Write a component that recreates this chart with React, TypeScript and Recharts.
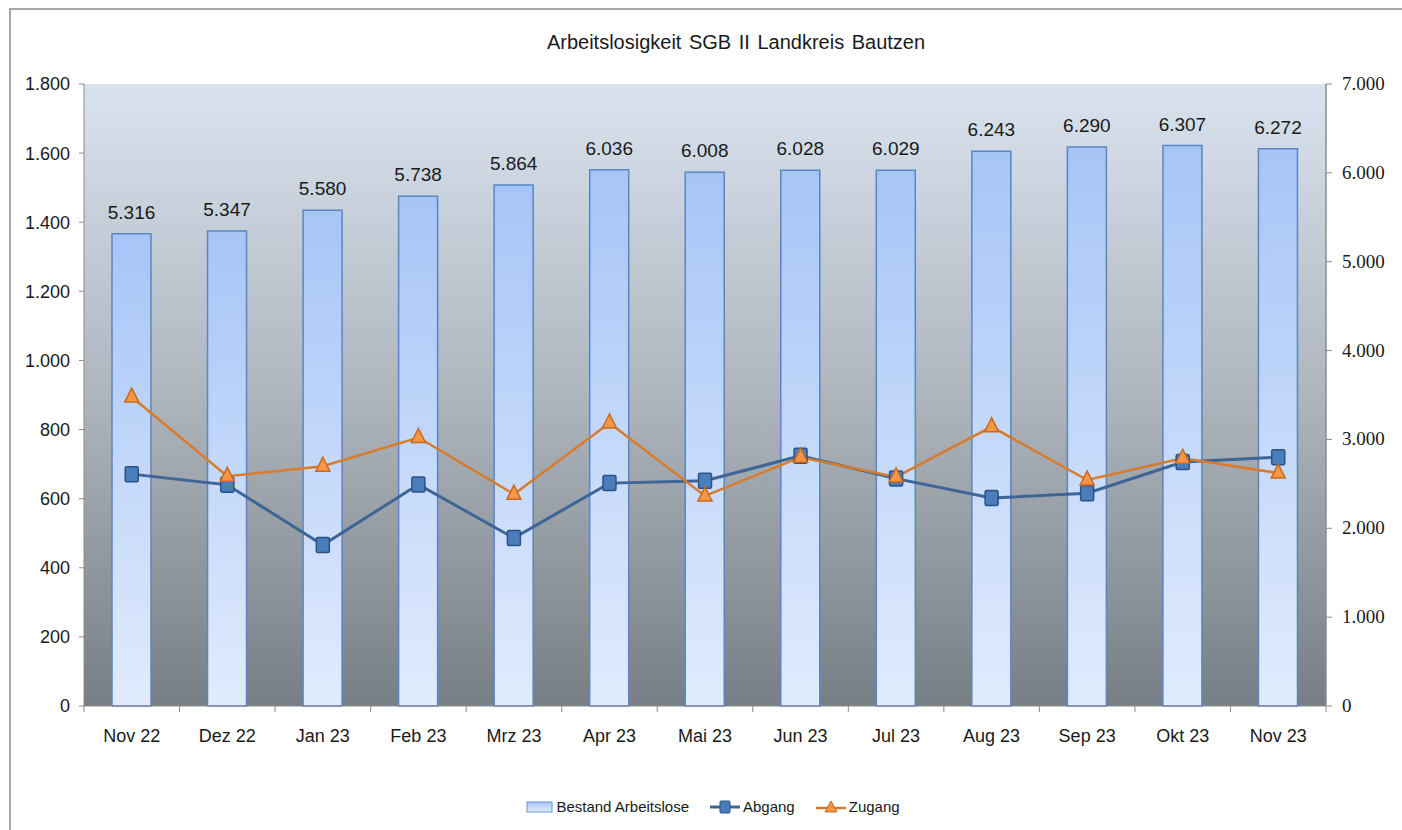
import React from 'react';
import { ComposedChart, Bar, Line, XAxis, YAxis, CartesianGrid, LabelList } from 'recharts';

const months = ['Nov 22', 'Dez 22', 'Jan 23', 'Feb 23', 'Mrz 23', 'Apr 23', 'Mai 23', 'Jun 23', 'Jul 23', 'Aug 23', 'Sep 23', 'Okt 23', 'Nov 23'];
const bestand = [5316, 5347, 5580, 5738, 5864, 6036, 6008, 6028, 6029, 6243, 6290, 6307, 6272];
const abgang = [671, 640, 466, 641, 486, 645, 652, 724, 658, 602, 616, 706, 720];
const zugang = [894, 665, 694, 777, 613, 819, 608, 720, 663, 808, 654, 717, 674];
const leftTicks = [0, 200, 400, 600, 800, 1000, 1200, 1400, 1600, 1800];
const rightTicks = [0, 1000, 2000, 3000, 4000, 5000, 6000, 7000];

const data = months.map((m, i) => ({ month: m, bestand: bestand[i], abgang: abgang[i], zugang: zugang[i] }));

// German thousands separator
const fmt = (v: number) => String(v).replace(/\B(?=(\d{3})+(?!\d))/g, '.');

const SANS = '"Liberation Sans", Arial, sans-serif';
const SERIF = 'Liberation Serif, Times New Roman, serif';

const SquareDot = (props: any) => {
    const { cx, cy, index } = props;
    return <rect key={'a' + index} x={cx - 6.5} y={cy - 7.5} width={13} height={15} rx={1.5} fill="#4a7ebb" stroke="#2c5286" strokeWidth={1.5} />;
};

const TriangleDot = (props: any) => {
    const { cx, cy, index } = props;
    return (
        <polygon
            key={'z' + index}
            points={`${cx},${cy - 9} ${cx - 7},${cy + 5} ${cx + 7},${cy + 5}`}
            fill="#f79646"
            stroke="#c86a1e"
            strokeWidth={1.5}
        />
    );
};

const XTick = (props: any) => {
    const { x, y, payload, width, visibleTicksCount, index } = props;
    const band = width / visibleTicksCount;
    const axisY = y - 8;
    return (
        <g>
            <line x1={x - band / 2} x2={x - band / 2} y1={axisY} y2={axisY + 6} stroke="#8c8c8c" />
            {index === visibleTicksCount - 1 && (
                <line x1={x + band / 2} x2={x + band / 2} y1={axisY} y2={axisY + 6} stroke="#8c8c8c" />
            )}
            <text x={x} y={y + 28} textAnchor="middle" fontSize={18} fill="#1a1a1a" fontFamily={SANS}>
                {payload.value}
            </text>
        </g>
    );
};

const RightTick = (props: any) => {
    const { x, y, payload } = props;
    return (
        <text x={x} y={y + 6} textAnchor="start" fontSize={19} fill="#1a1a1a" fontFamily={SERIF}>
            {fmt(payload.value)}
        </text>
    );
};

function Legend() {
    const item = { display: 'flex', alignItems: 'center', marginRight: 20 } as React.CSSProperties;
    return (
        <div
            style={{
                position: 'absolute',
                top: 798,
                left: 22,
                width: 1402,
                display: 'flex',
                justifyContent: 'center',
                fontFamily: SANS,
                fontSize: 15,
                color: '#1a1a1a',
            }}
        >
            <div style={item}>
                <svg width={28} height={14}>
                    <rect x={1} y={2} width={25} height={10} fill="url(#legBar)" stroke="#6b93c9" />
                    <defs>
                        <linearGradient id="legBar" x1="0" y1="0" x2="0" y2="1">
                            <stop offset="0%" stopColor="#a9c7f7" />
                            <stop offset="100%" stopColor="#e0eafc" />
                        </linearGradient>
                    </defs>
                </svg>
                <span style={{ marginLeft: 2 }}>Bestand Arbeitslose</span>
            </div>
            <div style={item}>
                <svg width={32} height={16}>
                    <line x1={1} x2={31} y1={8} y2={8} stroke="#3d6596" strokeWidth={3} />
                    <rect x={11} y={2} width={10} height={12} rx={1} fill="#4a7ebb" stroke="#2c5286" />
                </svg>
                <span style={{ marginLeft: 2 }}>Abgang</span>
            </div>
            <div style={item}>
                <svg width={32} height={16}>
                    <line x1={1} x2={31} y1={9} y2={9} stroke="#d97b2b" strokeWidth={2.5} />
                    <polygon points="16,2 10,13 22,13" fill="#f79646" stroke="#c86a1e" />
                </svg>
                <span style={{ marginLeft: 2 }}>Zugang</span>
            </div>
        </div>
    );
}

export default function App() {
    return (
        <div style={{ position: 'absolute', left: 0, top: 0, width: 1402, height: 830, background: '#fff', overflow: 'hidden' }}>
            <div style={{ position: 'absolute', left: 9, top: 8, width: 1420, height: 850, border: '2px solid #a6a6a6' }} />
            <div
                style={{
                    position: 'absolute',
                    left: 436,
                    top: 31,
                    width: 600,
                    textAlign: 'center',
                    fontFamily: SANS,
                    fontSize: 20,
                    color: '#1a1a1a',
                    wordSpacing: 2,
                }}
            >
                Arbeitslosigkeit SGB II Landkreis Bautzen
            </div>
            <div style={{ position: 'absolute', left: 0, top: 0 }}>
                <ComposedChart width={1402} height={830} data={data} margin={{ top: 84, right: 0, bottom: 94, left: 0 }}>
                    <defs>
                        <linearGradient id="plotBg" x1="0" y1="0" x2="0" y2="1">
                            <stop offset="0%" stopColor="#d9e3ef" />
                            <stop offset="50%" stopColor="#aeb5bd" />
                            <stop offset="100%" stopColor="#787e86" />
                        </linearGradient>
                        <linearGradient id="barFill" x1="0" y1="0" x2="0" y2="1">
                            <stop offset="0%" stopColor="#a6c5f7" />
                            <stop offset="100%" stopColor="#e1ebfd" />
                        </linearGradient>
                    </defs>
                    <CartesianGrid yAxisId="left" horizontal={false} vertical={false} fill="url(#plotBg)" stroke="none" />
                    <XAxis
                        dataKey="month"
                        height={30}
                        tickLine={false}
                        tickSize={6}
                        tickMargin={2}
                        axisLine={{ stroke: '#8c8c8c' }}
                        tick={<XTick />}
                        interval={0}
                    />
                    <YAxis
                        yAxisId="left"
                        width={84}
                        domain={[0, 1800]}
                        ticks={leftTicks}
                        tickFormatter={fmt}
                        axisLine={{ stroke: '#8c8c8c' }}
                        tickLine={{ stroke: '#8c8c8c' }}
                        tickSize={5}
                        tickMargin={9}
                        tick={{ fontSize: 18, fill: '#1a1a1a', fontFamily: SANS }}
                    />
                    <YAxis
                        yAxisId="right"
                        orientation="right"
                        width={76}
                        domain={[0, 7000]}
                        ticks={rightTicks}
                        axisLine={{ stroke: '#8c8c8c', strokeWidth: 1.5 }}
                        tickLine={{ stroke: '#8c8c8c' }}
                        tickSize={6}
                        tickMargin={10}
                        tick={<RightTick />}
                    />
                    <Bar
                        yAxisId="right"
                        dataKey="bestand"
                        barSize={39}
                        fill="url(#barFill)"
                        stroke="#5a86c3"
                        strokeWidth={1.5}
                        isAnimationActive={false}
                    >
                        <LabelList
                            dataKey="bestand"
                            position="top"
                            offset={15}
                            formatter={(v: any) => fmt(Number(v))}
                            style={{ fontSize: 19, fill: '#1a1a1a', fontFamily: SANS }}
                        />
                    </Bar>
                    <Line
                        yAxisId="left"
                        dataKey="abgang"
                        stroke="#3d6596"
                        strokeWidth={3}
                        dot={SquareDot}
                        activeDot={false}
                        isAnimationActive={false}
                    />
                    <Line
                        yAxisId="left"
                        dataKey="zugang"
                        stroke="#d97b2b"
                        strokeWidth={2.5}
                        dot={TriangleDot}
                        activeDot={false}
                        isAnimationActive={false}
                    />
                </ComposedChart>
            </div>
            <Legend />
        </div>
    );
}
